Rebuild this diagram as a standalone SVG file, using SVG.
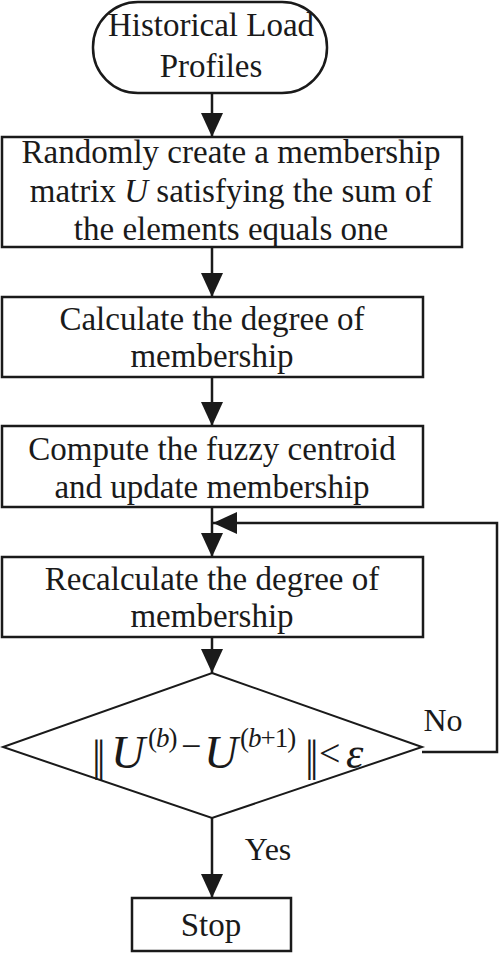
<svg xmlns="http://www.w3.org/2000/svg" width="500" height="953" viewBox="0 0 500 953">
<style>
.s{fill:#fff;stroke:#1a1a1a;stroke-width:2.5}
.l{fill:none;stroke:#1a1a1a;stroke-width:2.5}
.t{font-family:"Liberation Serif","Times New Roman",serif;font-size:33px;fill:#1a1a1a;text-anchor:middle}
.f{font-family:"Liberation Serif","Times New Roman",serif;fill:#1a1a1a;text-anchor:start}
.i{font-style:italic}
</style>
<defs>
<marker id="ah" markerUnits="userSpaceOnUse" markerWidth="24" markerHeight="34" refX="24" refY="11" orient="auto" viewBox="0 0 24 22">
<path d="M0,0 L24,11 L0,22 Z" fill="#1a1a1a"/>
</marker>
</defs>
<rect width="500" height="953" fill="#fff"/>
<g id="connectors">
<line class="l" x1="212" y1="93" x2="212" y2="137" marker-end="url(#ah)"/>
<line class="l" x1="212" y1="247" x2="212" y2="297" marker-end="url(#ah)"/>
<line class="l" x1="212" y1="377" x2="212" y2="426" marker-end="url(#ah)"/>
<line class="l" x1="212" y1="507" x2="212" y2="557" marker-end="url(#ah)"/>
<line class="l" x1="212" y1="637" x2="212" y2="673" marker-end="url(#ah)"/>
<polyline class="l" points="422,752 497,752 497,523 213,523" marker-end="url(#ah)"/>
<line class="l" x1="212" y1="818" x2="212" y2="898" marker-end="url(#ah)"/>
<text class="t" x="443" y="731" style="font-size:32px">No</text>
<text class="t" x="268" y="860" style="font-size:32px">Yes</text>
</g>
<g id="start">
<rect class="s" x="93" y="2" width="234" height="91" rx="45" ry="45"/>
<text class="t" x="211" y="36">Historical Load</text>
<text class="t" x="211" y="77">Profiles</text>
</g>
<g id="init">
<rect class="s" x="2" y="137" width="460" height="110"/>
<text class="t" x="231" y="163">Randomly create a membership</text>
<text class="t" x="231" y="202">matrix <tspan class="i">U</tspan> satisfying the sum of</text>
<text class="t" x="231" y="240">the elements equals one</text>
</g>
<g id="calc">
<rect class="s" x="2" y="297" width="421" height="80"/>
<text class="t" x="212" y="330">Calculate the degree of</text>
<text class="t" x="212" y="367">membership</text>
</g>
<g id="centroid">
<rect class="s" x="2" y="426" width="421" height="81"/>
<text class="t" x="212" y="460">Compute the fuzzy centroid</text>
<text class="t" x="212" y="498">and update membership</text>
</g>
<g id="recalc">
<rect class="s" x="2" y="557" width="421" height="80"/>
<text class="t" x="212" y="590">Recalculate the degree of</text>
<text class="t" x="212" y="627">membership</text>
</g>
<g id="check">
<polygon class="s" points="212,673 422,747 212,818 3,747" style="stroke-width:2"/>
<text class="f" x="92" y="771" style="font-size:44px;letter-spacing:-4px">||</text>
<text class="f i" x="111" y="768" style="font-size:47px">U</text>
<text class="f" x="148" y="747" style="font-size:27px;letter-spacing:-1px">(<tspan class="i">b</tspan>)</text>
<text class="f" x="181" y="758" style="font-size:36px">−</text>
<text class="f i" x="204" y="768" style="font-size:47px">U</text>
<text class="f" x="240" y="747" style="font-size:27px;letter-spacing:-1px">(<tspan class="i">b</tspan>+1)</text>
<text class="f" x="305" y="771" style="font-size:44px;letter-spacing:-4px">||</text>
<text class="f" x="319" y="766" style="font-size:38px">&lt;</text>
<text class="f i" x="346" y="768" style="font-size:44px">ε</text>
</g>
<g id="stop">
<rect class="s" x="132" y="898" width="159" height="53"/>
<text class="t" x="211" y="936">Stop</text>
</g>
</svg>
